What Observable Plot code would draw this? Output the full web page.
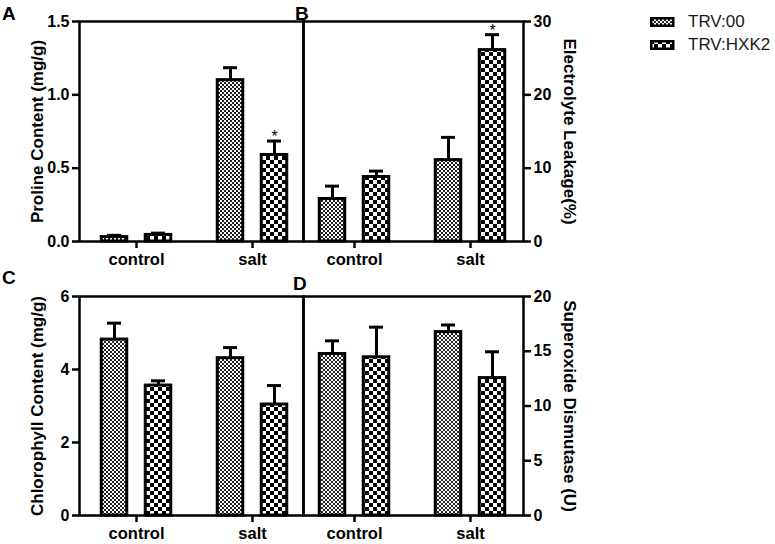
<!DOCTYPE html>
<html>
<head>
<meta charset="utf-8">
<script src="https://cdn.jsdelivr.net/npm/d3@7"></script>
<script src="https://cdn.jsdelivr.net/npm/@observablehq/plot@0.6"></script>
<style>
  body { margin: 0; background: #fff; font-family: "Liberation Sans", Arial, sans-serif; }
  #root { position: relative; width: 775px; height: 544px; overflow: hidden; background: #fff; }
  .panel { position: absolute; }
  #legend { position: absolute; left: 650px; top: 10px; font-size: 17px; color: #1a1a1a; }
  #legend .row { display: flex; align-items: center; height: 23.5px; }
  #legend svg { margin-right: 13px; }
</style>
</head>
<body>
<svg width="0" height="0" style="position:absolute">
  <defs>
    <pattern id="p00" width="4" height="4" patternUnits="userSpaceOnUse">
      <rect width="4" height="4" fill="#ffffff"/>
      <rect x="0" y="0" width="2" height="2" fill="#222"/>
      <rect x="2" y="2" width="2" height="2" fill="#222"/>
    </pattern>
    <pattern id="pHXK" width="8" height="8" patternUnits="userSpaceOnUse">
      <rect width="8" height="8" fill="#ffffff"/>
      <rect x="0" y="0" width="4" height="4" fill="#000"/>
      <rect x="4" y="4" width="4" height="4" fill="#000"/>
    </pattern>
  </defs>
</svg>
<div id="root">
  <svg id="letters" width="775" height="544" style="position:absolute;left:0;top:0;overflow:visible;z-index:5;pointer-events:none"></svg>
  <div id="legend"></div>
</div>
<script>
// ---- categories / series ----
const groups = ["control", "salt"];
const series = ["TRV:00", "TRV:HXK2"];
const patterns = ["url(#p00)", "url(#pHXK)"];

// ---- A: Proline Content (mg/g) ----
const prolineTRV00 = [0.03, 1.10];
const prolineTRV00Err = [0.012, 0.085];
const prolineHXK2 = [0.045, 0.59];
const prolineHXK2Err = [0.012, 0.095];
const prolineHXK2Sig = ["", "*"];
const prolineTicks = [0, 0.5, 1.0, 1.5];

// ---- B: Electrolyte Leakage (%) ----
const leakTRV00 = [5.8, 11.1];
const leakTRV00Err = [1.75, 3.1];
const leakHXK2 = [8.8, 26.1];
const leakHXK2Err = [0.8, 2.1];
const leakHXK2Sig = ["", "*"];
const leakTicks = [0, 10, 20, 30];

// ---- C: Chlorophyll Content (mg/g) ----
const chlTRV00 = [4.82, 4.31];
const chlTRV00Err = [0.45, 0.29];
const chlHXK2 = [3.56, 3.04];
const chlHXK2Err = [0.13, 0.52];
const chlTicks = [0, 2, 4, 6];

// ---- D: Superoxide Dismutase (U) ----
const sodTRV00 = [14.75, 16.75];
const sodTRV00Err = [1.2, 0.65];
const sodHXK2 = [14.45, 12.55];
const sodHXK2Err = [2.75, 2.4];
const sodTicks = [0, 5, 10, 15, 20];

function rows(means, errs, sig) {
  return groups.map((g, i) => ({group: g, value: means[i], err: errs[i], sig: sig ? sig[i] : ""}));
}

const FONT = "'Liberation Sans', Arial, sans-serif";

function panel({left, top, side, yTicks, fmt, label, sets, xOpts}) {
  const isLeft = side === "left";
  const marks = [];
  sets.forEach(([data, si]) => {
    const off = si === 0 ? -22 : 22;
    marks.push(Plot.barY(data, {x: "group", y: "value", fill: patterns[si], stroke: "black", strokeWidth: 3,
      insetLeft: 16.25, insetRight: 16.25, dx: off}));
    marks.push(Plot.ruleX(data, {x: "group", y1: "value", y2: d => d.value + d.err, stroke: "black", strokeWidth: 3, dx: off}));
    marks.push(Plot.tickY(data, {x: "group", y: d => d.value + d.err, stroke: "black", strokeWidth: 3,
      insetLeft: 22, insetRight: 22, dx: off}));
    const sig = data.filter(d => d.sig);
    if (sig.length) marks.push(Plot.text(sig, {x: "group", y: d => d.value + d.err, text: "sig", dx: off, dy: 1,
      lineAnchor: "bottom", fontSize: 16, fontWeight: "normal", fill: "black"}));
  });
  marks.push(Plot.frame({stroke: "black", strokeWidth: 2.5}));
  marks.push(Plot.axisY({anchor: side, ticks: yTicks, tickFormat: fmt, tickSize: 7, tickPadding: 3,
    fontSize: 16, fontWeight: "bold", strokeWidth: 2.5, label: null}));
  marks.push(Plot.axisX({anchor: "bottom", tickSize: 7, tickPadding: 5, fontSize: 16.5, fontWeight: "bold",
    strokeWidth: 2.5, label: null}));
  marks.push(Plot.text([label], {text: d => d, frameAnchor: side, dx: isLeft ? -42 : 46, rotate: isLeft ? -90 : 90,
    textAnchor: "middle", lineAnchor: "middle", fontSize: 17, fontWeight: "bold", fill: "black"}));

  const chart = Plot.plot({
    width: 303,
    height: top === 0 ? 270 : 269,
    marginLeft: isLeft ? 79 : 0,
    marginRight: isLeft ? 0 : 83,
    marginTop: 21,
    marginBottom: 29,
    style: `overflow:visible;background:transparent;font-family:${FONT};color:black;`,
    x: {domain: groups, ...xOpts},
    y: {domain: [yTicks[0], yTicks[yTicks.length - 1]]},
    marks
  });
  const div = document.createElement("div");
  div.className = "panel";
  div.style.left = left + "px";
  div.style.top = top + "px";
  div.appendChild(chart);
  document.getElementById("root").appendChild(div);
}

const xLeft = {paddingInner: 0.5, paddingOuter: 0.2073, align: 0.5515};
const xRight = {paddingInner: 0.5, paddingOuter: 0.1902, align: 0.4888};

panel({left: 0, top: 0, side: "left", yTicks: prolineTicks, fmt: d3.format(".1f"),
  label: "Proline Content (mg/g)", xOpts: xLeft,
  sets: [[rows(prolineTRV00, prolineTRV00Err), 0], [rows(prolineHXK2, prolineHXK2Err, prolineHXK2Sig), 1]]});
panel({left: 303, top: 0, side: "right", yTicks: leakTicks, fmt: d3.format("d"),
  label: "Electrolyte Leakage(%)", xOpts: xRight,
  sets: [[rows(leakTRV00, leakTRV00Err), 0], [rows(leakHXK2, leakHXK2Err, leakHXK2Sig), 1]]});
panel({left: 0, top: 275, side: "left", yTicks: chlTicks, fmt: d3.format("d"),
  label: "Chlorophyll Content (mg/g)", xOpts: xLeft,
  sets: [[rows(chlTRV00, chlTRV00Err), 0], [rows(chlHXK2, chlHXK2Err), 1]]});
panel({left: 303, top: 275, side: "right", yTicks: sodTicks, fmt: d3.format("d"),
  label: "Superoxide Dismutase (U)", xOpts: xRight,
  sets: [[rows(sodTRV00, sodTRV00Err), 0], [rows(sodHXK2, sodHXK2Err), 1]]});

// panel letters
const letters = [["A", 2, 20], ["B", 295, 20], ["C", 2, 284], ["D", 293, 290]];
const ls = d3.select("#letters");
ls.selectAll("text").data(letters).join("text")
  .attr("x", d => d[1]).attr("y", d => d[2])
  .attr("font-family", FONT).attr("font-weight", "bold").attr("font-size", 19)
  .text(d => d[0]);

// legend
const lg = d3.select("#legend");
series.forEach((s, i) => {
  const row = lg.append("div").attr("class", "row");
  const sv = row.append("svg").attr("width", 25).attr("height", 10);
  sv.append("rect").attr("x", 1.25).attr("y", 1.25).attr("width", 22).attr("height", 7.5)
    .attr("fill", patterns[i]).attr("stroke", "black").attr("stroke-width", 2.5);
  row.append("span").text(s);
});
</script>
</body>
</html>
